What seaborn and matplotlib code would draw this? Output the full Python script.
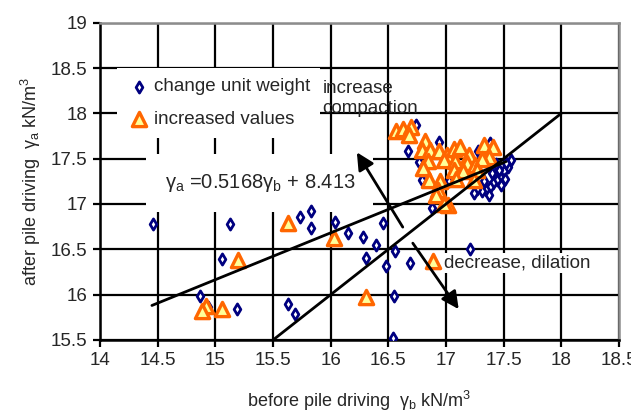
import numpy as np
import pandas as pd
import matplotlib
matplotlib.use("Agg")
import matplotlib.pyplot as plt
import seaborn as sns

# change unit weight (before, after)
blue_x = [14.46, 15.13, 15.06, 14.87, 14.94, 15.19,
          15.73, 15.83, 15.83, 16.04, 16.15, 16.28, 16.45, 16.39, 16.31, 16.48, 16.56,
          15.63, 15.69, 16.55, 16.54, 16.69, 17.21,
          16.74, 16.67, 16.94, 16.77, 16.79, 17.03, 16.88, 17.28, 17.38,
          17.54, 17.50, 17.47, 17.44, 17.51, 17.41, 17.38, 17.35, 17.31, 17.33,
          17.40, 17.46, 17.27, 17.24, 17.48, 17.56, 17.37, 17.43, 17.52]
blue_y = [16.78, 16.78, 16.39, 15.98, 15.86, 15.84,
          16.86, 16.92, 16.74, 16.80, 16.68, 16.64, 16.79, 16.55, 16.40, 16.32, 16.48,
          15.90, 15.79, 15.98, 15.52, 16.35, 16.50,
          17.87, 17.58, 17.68, 17.46, 17.27, 17.25, 16.96, 17.58, 17.67,
          17.41, 17.36, 17.30, 17.26, 17.28, 17.23, 17.19, 17.15, 17.14, 17.25,
          17.34, 17.38, 17.17, 17.12, 17.21, 17.49, 17.10, 17.44, 17.45]

# increased values
orange_x = [15.20, 14.92, 14.88, 15.06, 15.63, 16.03, 16.31, 16.89,
            16.57, 16.63, 16.70, 16.68, 16.82, 16.79, 16.86, 16.84, 16.80, 16.94,
            17.01, 17.07, 17.12, 16.98, 17.08, 17.20, 17.18, 17.25, 17.33, 17.41,
            17.37, 17.31, 17.07, 17.15, 17.27, 17.09, 17.24, 16.85, 16.95, 16.93,
            16.91, 17.02, 16.98]
orange_y = [16.38, 15.87, 15.82, 15.84, 16.79, 16.63, 15.97, 16.37,
            17.81, 17.83, 17.85, 17.76, 17.69, 17.60, 17.60, 17.47, 17.40, 17.58,
            17.54, 17.61, 17.63, 17.49, 17.47, 17.54, 17.45, 17.43, 17.65, 17.63,
            17.52, 17.50, 17.38, 17.36, 17.38, 17.28, 17.26, 17.26, 17.25, 17.15,
            17.10, 16.99, 17.00]

# regression and 1:1 line
slope, intercept = 0.5168, 8.413
reg_x = [14.45, 17.52]
one_x = [15.5, 18.0]

# arrows: (tail, head)
arrow_up = [(16.625, 16.745), (16.227, 17.57)]
arrow_down = [(16.712, 16.568), (17.11, 15.84)]

x_ticks = [14, 14.5, 15, 15.5, 16, 16.5, 17, 17.5, 18, 18.5]
y_ticks = [15.5, 16, 16.5, 17, 17.5, 18, 18.5, 19]

sns.set_style("white")
plt.rcParams['font.family'] = ['Liberation Sans', 'DejaVu Sans']
plt.rcParams['mathtext.fontset'] = 'custom'
plt.rcParams['mathtext.rm'] = 'Liberation Sans'
plt.rcParams['mathtext.it'] = 'Liberation Sans'

df_b = pd.DataFrame({'before': blue_x, 'after': blue_y})
df_o = pd.DataFrame({'before': orange_x, 'after': orange_y})

fig = plt.figure(figsize=(6.31, 4.13), dpi=100)
ax = fig.add_axes([0.1585, 0.1768, 0.8225, 0.7683])

sns.scatterplot(data=df_b, x='before', y='after', ax=ax, marker='d', s=32,
                facecolor='white', edgecolor='#000080', linewidth=2.0,
                label='change unit weight', zorder=3)
sns.scatterplot(data=df_o, x='before', y='after', ax=ax, marker='^', s=105,
                facecolor='#FFFF99', edgecolor='#FF6600', linewidth=2.4,
                label='increased values', zorder=4)

reg_y = [slope * v + intercept for v in reg_x]
ax.plot(reg_x, reg_y, color='black', lw=2.0, zorder=5)
ax.plot(one_x, one_x, color='black', lw=2.0, zorder=5)

for tail, head in [arrow_up, arrow_down]:
    ax.annotate('', xy=head, xytext=tail, zorder=6,
                arrowprops=dict(arrowstyle='-|>', color='black', lw=2.0,
                                mutation_scale=26, shrinkA=0, shrinkB=0))

ax.text(14.56, 17.23, r'γ$_\mathrm{a}$ =0.5168γ$_\mathrm{b}$ + 8.413', fontsize=14.5,
        va='center', ha='left', zorder=2,
        bbox=dict(facecolor='white', edgecolor='none', pad=13))
ax.text(15.93, 18.37, 'increase\ncompaction', fontsize=13.5, va='top', ha='left',
        linespacing=1.25, zorder=2)
ax.text(16.98, 16.35, 'decrease, dilation', fontsize=13.5, va='center', ha='left',
        zorder=2, bbox=dict(facecolor='white', edgecolor='none', pad=1))

ax.set_xlim(14, 18.5)
ax.set_ylim(15.5, 19)
ax.set_xticks(x_ticks)
ax.set_yticks(y_ticks)
ax.set_xticklabels([f'{t:g}' for t in x_ticks])
ax.set_yticklabels([f'{t:g}' for t in y_ticks])
ax.tick_params(axis='both', labelsize=13.5, direction='out', length=5, width=1.6,
               color='black', pad=4)
ax.tick_params(axis='both', which='both', bottom=True, left=True)

ax.grid(True, color='black', lw=1.6)
ax.set_axisbelow(True)
for s in ['left', 'bottom']:
    ax.spines[s].set_color('black')
    ax.spines[s].set_linewidth(1.8)
for s in ['top', 'right']:
    ax.spines[s].set_color('#8c8c8c')
    ax.spines[s].set_linewidth(1.8)

ax.set_xlabel(r'before pile driving  γ$_\mathrm{b}$ kN/m$^\mathrm{3}$', fontsize=13, labelpad=14)
ax.set_ylabel(r'after pile driving  γ$_\mathrm{a}$ kN/m$^\mathrm{3}$', fontsize=13, labelpad=6)

leg = ax.legend(loc='upper left', bbox_to_anchor=(0.033, 0.857), fontsize=13.5,
                frameon=True, fancybox=False, edgecolor='none', facecolor='white',
                framealpha=1, handletextpad=0.2, labelspacing=0.8, borderpad=0.55,
                handlelength=1.2, borderaxespad=0)
leg.set_zorder(7)

fig.savefig('out.png', dpi=100)
